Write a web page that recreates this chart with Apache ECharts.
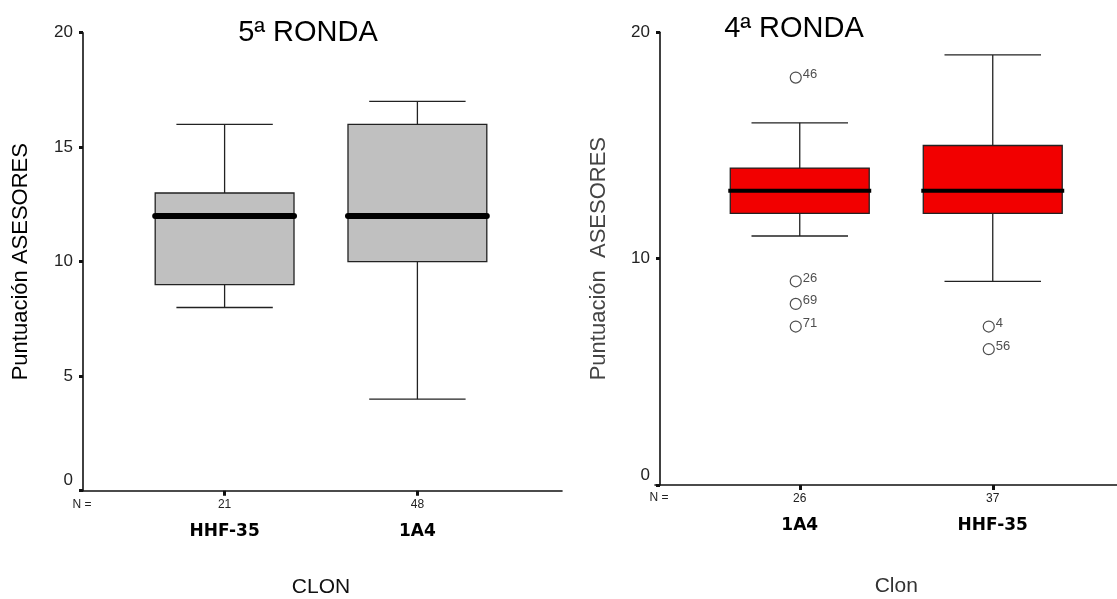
<!DOCTYPE html>
<html>
<head>
<meta charset="utf-8">
<script src="https://cdn.jsdelivr.net/npm/echarts@6/dist/echarts.min.js"></script>
<style>
html,body{margin:0;padding:0;background:#fff;}
#chart{width:1117px;height:599px;}
</style>
</head>
<body>
<div id="chart"></div>
<script>
// ---- Data ----
// Left panel: 5ª RONDA
const leftTitle = '5ª RONDA';
const leftCategories = ['HHF-35', '1A4'];
const leftN = [21, 48];
// [min, Q1, median, Q3, max]
const leftBoxes = [[8, 9, 12, 13, 16], [4, 10, 12, 16, 17]];
const leftYTicks = [0, 5, 10, 15, 20];

// Right panel: 4ª RONDA
const rightTitle = '4ª RONDA';
const rightCategories = ['1A4', 'HHF-35'];
const rightN = [26, 37];
const rightBoxes = [[11, 12, 13, 14, 16], [9, 12, 13, 15, 19]];
// [category index, value, case label]
const rightOutliers = [[0, 18, '46'], [0, 9, '26'], [0, 8, '69'], [0, 7, '71'], [1, 7, '4'], [1, 6, '56']];
const rightYTicks = [0, 10, 20];

// ---- helpers ----
// Each category sits in slots 1 and 3 of a 5-slot band axis
const slotOf = i => 2 * i + 1;
const slots = cats => ['', cats[0], '', cats[1], ''];

const NUM_FONT = "'Liberation Sans', Arial, sans-serif";
const CAT_FONT = "'DejaVu Sans', 'Liberation Sans', sans-serif";

function boxRenderer(fill, medianWidth, medianCap, medianExtra) {
  return function (params, api) {
    const x = api.value(0);
    const band = api.size([1, 0])[0];
    const pMin = api.coord([x, api.value(1)]);
    const pQ1 = api.coord([x, api.value(2)]);
    const pMed = api.coord([x, api.value(3)]);
    const pQ3 = api.coord([x, api.value(4)]);
    const pMax = api.coord([x, api.value(5)]);
    const cx = pMed[0];
    const bw = band * 1.44;
    const cw = band * 1.0;
    const lineStyle = {stroke: '#222', lineWidth: 1.3};
    return {
      type: 'group',
      children: [
        {type: 'line', shape: {x1: cx, y1: pMax[1], x2: cx, y2: pQ3[1]}, style: lineStyle},
        {type: 'line', shape: {x1: cx, y1: pQ1[1], x2: cx, y2: pMin[1]}, style: lineStyle},
        {type: 'line', shape: {x1: cx - cw / 2, y1: pMax[1], x2: cx + cw / 2, y2: pMax[1]}, style: lineStyle},
        {type: 'line', shape: {x1: cx - cw / 2, y1: pMin[1], x2: cx + cw / 2, y2: pMin[1]}, style: lineStyle},
        {type: 'rect', shape: {x: cx - bw / 2, y: pQ3[1], width: bw, height: pQ1[1] - pQ3[1]},
          style: {fill: fill, stroke: '#222', lineWidth: 1.3}},
        {type: 'line', shape: {x1: cx - bw / 2 - medianExtra, y1: pMed[1], x2: cx + bw / 2 + medianExtra, y2: pMed[1]},
          style: {stroke: '#000', lineWidth: medianWidth, lineCap: medianCap}}
      ]
    };
  };
}

function makeXAxis(gridIndex, cats, ns, name, nameGap, nameColor) {
  const s = slots(cats);
  return {
    type: 'category', gridIndex: gridIndex, data: s, boundaryGap: true,
    axisLine: {show: true, lineStyle: {color: '#111', width: 1.6}},
    axisTick: {show: true, alignWithLabel: true, length: 5,
      interval: (i) => s[i] !== '', lineStyle: {color: '#111', width: 3}},
    axisLabel: {
      interval: 0, margin: 4,
      formatter: (v, i) => {
        if (!v) return '';
        const k = cats.indexOf(v);
        return '{n|' + ns[k] + '}\n{c|' + v + '}';
      },
      rich: {
        n: {fontSize: 12, fontFamily: NUM_FONT, color: '#222', lineHeight: 20},
        c: {fontSize: 17, fontFamily: CAT_FONT, fontWeight: 'bold', color: '#000', lineHeight: 34}
      }
    },
    splitLine: {show: false},
    name: name, nameLocation: 'middle', nameGap: nameGap,
    nameTextStyle: {fontSize: 21, fontFamily: NUM_FONT, color: nameColor}
  };
}

function makeYAxis(gridIndex, ticks, name, nameGap, offset, nameColor) {
  return {
    type: 'value', gridIndex: gridIndex,
    min: ticks[0], max: ticks[ticks.length - 1], interval: ticks[1] - ticks[0],
    offset: offset,
    axisLine: {show: true, lineStyle: {color: '#111', width: 1.6}},
    axisTick: {show: true, length: 4, lineStyle: {color: '#111', width: 3}},
    splitLine: {show: false},
    axisLabel: {
      margin: 10, fontSize: 17, fontFamily: NUM_FONT, color: '#222',
      formatter: v => v === ticks[0] ? '{z|' + v + '}' : String(v),
      rich: {z: {fontSize: 17, fontFamily: NUM_FONT, color: '#222', padding: [0, 0, 20, 0]}}
    },
    name: name, nameLocation: 'middle', nameGap: nameGap, nameRotate: 90,
    nameTextStyle: {fontSize: 22, fontFamily: NUM_FONT, color: nameColor}
  };
}

const chart = echarts.init(document.getElementById('chart'), null, {renderer: 'canvas'});

const option = {
  backgroundColor: '#ffffff',
  animation: false,
  grid: [
    {left: 80, top: 32.7, width: 482, height: 458, containLabel: false, outerBoundsMode: 'none'},
    {left: 655, top: 32.3, width: 482.5, height: 452.7, containLabel: false, outerBoundsMode: 'none'}
  ],
  xAxis: [
    makeXAxis(0, leftCategories, leftN, 'CLON', 86, '#111'),
    makeXAxis(1, rightCategories, rightN, 'Clon', 91, '#333')
  ],
  yAxis: [
    makeYAxis(0, leftYTicks, 'Puntuación ASESORES', 51, -3, '#000'),
    makeYAxis(1, rightYTicks, 'Puntuación  ASESORES', 50, -5, '#444')
  ],
  graphic: [
    {type: 'text', x: 308, y: 33, style: {text: leftTitle, align: 'center', verticalAlign: 'middle',
      textAlign: 'center', textVerticalAlign: 'middle', fontSize: 29, fontFamily: NUM_FONT, fill: '#000'}},
    {type: 'text', x: 794, y: 28.5, style: {text: rightTitle, align: 'center', verticalAlign: 'middle',
      textAlign: 'center', textVerticalAlign: 'middle', fontSize: 29, fontFamily: NUM_FONT, fill: '#000'}},
    {type: 'text', x: 82, y: 505, style: {text: 'N =', align: 'center', verticalAlign: 'middle',
      textAlign: 'center', textVerticalAlign: 'middle', fontSize: 12, fontFamily: NUM_FONT, fill: '#222'}},
    {type: 'text', x: 659, y: 498, style: {text: 'N =', align: 'center', verticalAlign: 'middle',
      textAlign: 'center', textVerticalAlign: 'middle', fontSize: 12, fontFamily: NUM_FONT, fill: '#222'}}
  ],
  series: [
    {
      type: 'custom', xAxisIndex: 0, yAxisIndex: 0,
      renderItem: boxRenderer('#c0c0c0', 6, 'round', 0),
      encode: {x: 0, y: [1, 2, 3, 4, 5]},
      data: leftBoxes.map((b, i) => [slotOf(i)].concat(b)),
      silent: true
    },
    {
      type: 'custom', xAxisIndex: 1, yAxisIndex: 1,
      renderItem: boxRenderer('#f20000', 4, 'butt', 2),
      encode: {x: 0, y: [1, 2, 3, 4, 5]},
      data: rightBoxes.map((b, i) => [slotOf(i)].concat(b)),
      silent: true
    },
    {
      type: 'scatter', xAxisIndex: 1, yAxisIndex: 1,
      symbol: 'circle', symbolSize: 11, symbolOffset: [-4, 0],
      itemStyle: {color: '#ffffff', borderColor: '#222', borderWidth: 1.2},
      label: {show: true, position: 'right', distance: 1, offset: [0, -3],
        fontSize: 13, fontFamily: NUM_FONT, color: '#222',
        formatter: p => String(p.data[2])},
      data: rightOutliers.map(o => [slotOf(o[0]), o[1], o[2]]),
      z: 5
    }
  ]
};

chart.setOption(option);
</script>
</body>
</html>
